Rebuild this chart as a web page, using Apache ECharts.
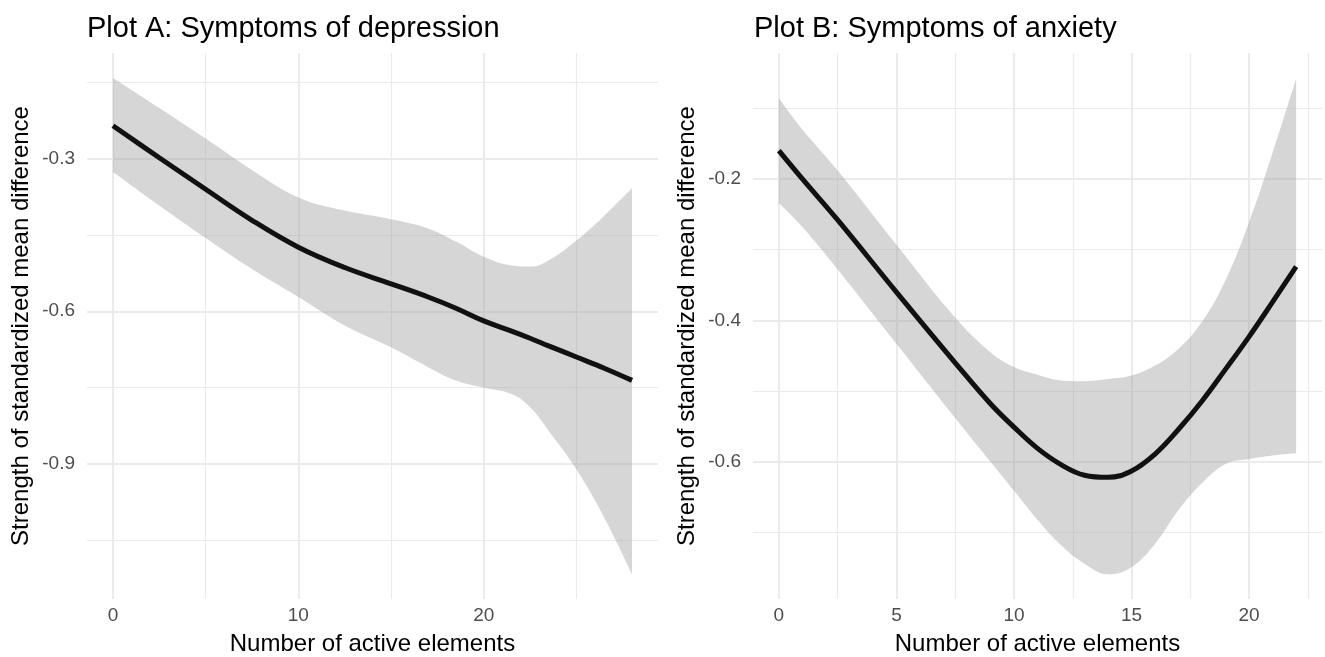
<!DOCTYPE html>
<html>
<head>
<meta charset="utf-8">
<title>Symptoms of depression and anxiety</title>
<script src="https://cdn.jsdelivr.net/npm/echarts@6/dist/echarts.min.js"></script>
<style>
    html, body { margin: 0; padding: 0; background: #fff; }
    #main { width: 1325px; height: 657px; }
</style>
</head>
<body>
<div id="main"></div>
<script type="text/javascript">
    // Plot A: depression
    var xA     = [0, 2.5, 5, 7.5, 10, 12.5, 15, 17, 18.5, 20, 21.5, 22.5, 23.5, 25, 26.5, 28];
    var fitA   = [-0.235, -0.298, -0.360, -0.421, -0.474, -0.514, -0.546, -0.572, -0.594, -0.619, -0.639, -0.653, -0.668, -0.690, -0.712, -0.736];
    var upperA = [-0.141, -0.200, -0.260, -0.322, -0.376, -0.402, -0.419, -0.437, -0.463, -0.493, -0.510, -0.512, -0.500, -0.461, -0.412, -0.358];
    var lowerA = [-0.326, -0.392, -0.456, -0.517, -0.572, -0.628, -0.671, -0.710, -0.736, -0.750, -0.763, -0.789, -0.835, -0.911, -1.006, -1.117];
    var xTicksA = [0, 10, 20];
    var xMinorA = [5, 15, 25];
    var yTicksA = [-0.3, -0.6, -0.9];
    var yMinorA = [-0.15, -0.45, -0.75, -1.05];

    // Plot B: anxiety
    var xB     = [0, 1, 2.5, 5, 7.5, 9, 10, 11, 12, 13, 14, 15, 16, 17, 18, 19, 20, 21, 22];
    var fitB   = [-0.160, -0.200, -0.258, -0.360, -0.460, -0.518, -0.551, -0.581, -0.604, -0.619, -0.622, -0.613, -0.589, -0.554, -0.514, -0.469, -0.423, -0.374, -0.324];
    var upperB = [-0.086, -0.130, -0.188, -0.293, -0.396, -0.445, -0.466, -0.477, -0.485, -0.486, -0.483, -0.478, -0.464, -0.440, -0.402, -0.343, -0.261, -0.163, -0.058];
    var lowerB = [-0.234, -0.268, -0.328, -0.433, -0.538, -0.600, -0.641, -0.682, -0.718, -0.744, -0.759, -0.749, -0.716, -0.668, -0.630, -0.603, -0.596, -0.591, -0.588];
    var xTicksB = [0, 5, 10, 15, 20];
    var xMinorB = [2.5, 7.5, 12.5, 17.5, 22.5];
    var yTicksB = [-0.2, -0.4, -0.6];
    var yMinorB = [-0.1, -0.3, -0.5, -0.7];

    var FONT = 'Liberation Sans, Arial, Helvetica, sans-serif';

    function pairs(xs, ys) {
        return xs.map(function (x, i) { return [x, ys[i]]; });
    }
    // y first, so that the stack is done on the y dimension
    function yFirst(xs, ys) {
        return xs.map(function (x, i) { return [ys[i], x]; });
    }

    // one axis for labels + major grid, one for the minor grid
    function axes(grid, min, max, major, minor, name, isY) {
        var main = {
            type: 'value', gridIndex: grid, min: min, max: max,
            name: name, nameLocation: 'middle',
            nameGap: isY ? 54 : 33,
            nameTextStyle: {fontFamily: FONT, fontSize: 24, color: '#000'},
            axisLine: {show: false},
            axisTick: {show: false, customValues: major},
            axisLabel: {customValues: major, fontFamily: FONT, fontSize: 19, color: '#4d4d4d', margin: isY ? 12 : 7},
            splitLine: {show: true, lineStyle: {color: '#ebebeb', width: 2}}
        };
        var sub = {
            type: 'value', gridIndex: grid, min: min, max: max,
            position: isY ? 'left' : 'bottom',
            axisLine: {show: false},
            axisTick: {show: false, customValues: minor},
            axisLabel: {show: false, customValues: minor},
            splitLine: {show: true, lineStyle: {color: '#ebebeb', width: 1.2}}
        };
        return [main, sub];
    }

    function band(name, xi, yi, xs, hi, lo, fit) {
        var width = hi.map(function (v, i) { return +(v - lo[i]).toFixed(4); });
        return [
            {
                name: name + ' lower', type: 'line', xAxisIndex: xi, yAxisIndex: yi,
                stack: name, stackStrategy: 'all', smooth: 0.4, symbol: 'none',
                encode: {x: 1, y: 0},
                lineStyle: {opacity: 0}, data: yFirst(xs, lo), z: 2
            },
            {
                name: name + ' band', type: 'line', xAxisIndex: xi, yAxisIndex: yi,
                stack: name, stackStrategy: 'all', smooth: 0.4, symbol: 'none',
                encode: {x: 1, y: 0},
                lineStyle: {opacity: 0},
                areaStyle: {color: '#999999', opacity: 0.4},
                data: yFirst(xs, width), z: 2
            },
            {
                name: name + ' fit', type: 'line', xAxisIndex: xi, yAxisIndex: yi,
                smooth: 0.4, symbol: 'none',
                lineStyle: {color: '#111', width: 5},
                data: pairs(xs, fit), z: 3
            }
        ];
    }

    var xa = axes(0, -1.4, 29.4, xTicksA, xMinorA, 'Number of active elements', false);
    var xb = axes(1, -1.1, 23.1, xTicksB, xMinorB, 'Number of active elements', false);
    var ya = axes(0, -1.166, -0.092, yTicksA, yMinorA, 'Strength of standardized mean difference', true);
    var yb = axes(1, -0.794, -0.022, yTicksB, yMinorB, 'Strength of standardized mean difference', true);

    var myChart = echarts.init(document.getElementById('main'));
    var option = {
        backgroundColor: '#fff',
        animation: false,
        title: [
            {text: 'Plot A: Symptoms of depression', left: 82, top: 9,
                textStyle: {fontFamily: FONT, fontSize: 29, fontWeight: 'normal', color: '#000'}},
            {text: 'Plot B: Symptoms of anxiety', left: 749, top: 9,
                textStyle: {fontFamily: FONT, fontSize: 29, fontWeight: 'normal', color: '#000'}}
        ],
        grid: [
            {left: 87, top: 53, width: 571, height: 546, outerBoundsMode: 'none', containLabel: false},
            {left: 753, top: 53, width: 569, height: 546, outerBoundsMode: 'none', containLabel: false}
        ],
        xAxis: xa.concat(xb),
        yAxis: ya.concat(yb),
        series: band('A', 0, 0, xA, upperA, lowerA, fitA)
            .concat(band('B', 2, 2, xB, upperB, lowerB, fitB))
    };
    myChart.setOption(option);
</script>
</body>
</html>
